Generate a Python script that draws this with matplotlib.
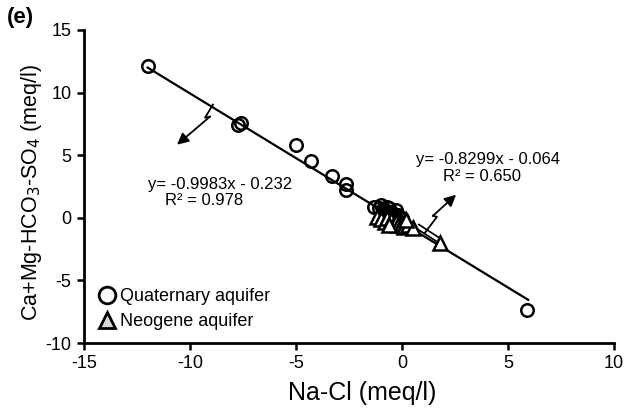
import matplotlib
matplotlib.use("Agg")
import matplotlib.pyplot as plt
from matplotlib.lines import Line2D

plt.rcParams['font.family'] = ['Liberation Sans', 'DejaVu Sans']
plt.rcParams['axes.unicode_minus'] = False

# Quaternary aquifer samples (Na-Cl, Ca+Mg-HCO3-SO4)
quat_x = [-12.0, -7.75, -7.6, -5.0, -4.3, -3.3, -2.65, -2.65, 5.9,
          -1.3, -1.1, -1.0, -0.9, -0.8, -0.7, -0.6, -0.5, -0.4, -0.3, -0.2, -0.1, 0.0, -0.9, -0.6]
quat_y = [12.1, 7.4, 7.55, 5.85, 4.5, 3.3, 2.7, 2.25, -7.35,
          0.9, 0.8, 1.0, 0.7, 0.6, 0.9, 0.4, 0.5, 0.3, 0.6, 0.2, 0.1, 0.0, 0.3, 0.8]

# Neogene aquifer samples
neo_x = [-1.2, -1.0, -0.8, -0.7, -0.5, -0.4, -0.3, -0.2, 0.0, 0.1, 0.3, 0.5, -0.6, 0.2, 1.8]
neo_y = [0.1, -0.1, -0.3, 0.0, -0.2, -0.5, -0.3, -0.6, -0.4, -0.7, -0.6, -0.8, -0.6, -0.2, -2.05]

# fitted lines (endpoints as drawn)
quat_fit_x = [-12.0, 5.95]
quat_fit_y = [12.0, -6.55]
neo_fit_x = [0.7, 1.7]
neo_fit_y = [-0.65, -1.75]

# lightning arrows (start, kink, jog, tip)
quat_arrow_x = [-8.92, -9.29, -9.06, -10.61]
quat_arrow_y = [9.04, 8.0, 8.08, 5.84]
neo_arrow_x = [1.08, 1.65, 1.46, 2.55]
neo_arrow_y = [-1.2, 0.08, 0.16, 1.84]

xticks = [-15, -10, -5, 0, 5, 10]
yticks = [-10, -5, 0, 5, 10, 15]

fig = plt.figure(figsize=(6.28, 4.08), dpi=100)
ax = fig.add_axes([84/628, 65/408, 530/628, 313/408])

ax.plot(quat_fit_x, quat_fit_y, color='black', lw=1.6, zorder=2)
ax.plot(neo_fit_x, neo_fit_y, color='black', lw=4.5, zorder=3, solid_capstyle='butt')
ax.plot(neo_fit_x, neo_fit_y, color='white', lw=2.0, zorder=3.1, solid_capstyle='butt')

ax.plot(quat_x, quat_y, linestyle='none', marker='o', ms=9, mfc='none',
        mec='black', mew=1.8, zorder=4)
ax.plot(neo_x, neo_y, linestyle='none', marker='^', ms=9.5, mfc='white',
        mec='black', mew=1.8, zorder=4)

for axx, ayy in [(quat_arrow_x, quat_arrow_y), (neo_arrow_x, neo_arrow_y)]:
    ax.plot(axx[:3], ayy[:3], color='black', lw=1.3, zorder=5)
    ax.annotate('', xy=(axx[3], ayy[3]), xytext=(axx[2], ayy[2]),
                arrowprops=dict(arrowstyle='-|>', color='black', lw=1.3,
                                mutation_scale=17, shrinkA=0, shrinkB=0), zorder=5)

ax.text(-12.0, 2.65, 'y= -0.9983x - 0.232', fontsize=12, va='center', ha='left')
ax.text(-11.2, 1.35, 'R² = 0.978', fontsize=12, va='center', ha='left')
ax.text(0.65, 4.65, 'y= -0.8299x - 0.064', fontsize=12, va='center', ha='left')
ax.text(1.95, 3.3, 'R² = 0.650', fontsize=12, va='center', ha='left')

ax.set_xlim(-15, 10)
ax.set_ylim(-10, 15)
ax.set_xticks(xticks)
ax.set_yticks(yticks)
ax.tick_params(direction='out', length=5, width=1.8, labelsize=13, pad=4)
for s in ['top', 'right']:
    ax.spines[s].set_visible(False)
for s in ['left', 'bottom']:
    ax.spines[s].set_linewidth(2.0)

ax.set_xlabel('Na-Cl (meq/l)', fontsize=18)
ax.xaxis.set_label_coords(0.525, -0.12)
ax.set_ylabel('Ca+Mg-HCO$_3$-SO$_4$ (meq/l)', fontsize=15.5)
ax.yaxis.set_label_coords(-0.075, 0.48)

handles = [Line2D([], [], linestyle='none', marker='o', ms=12, mfc='none', mec='black', mew=2),
           Line2D([], [], linestyle='none', marker='^', ms=12, mfc='#d9d9d9', mec='black', mew=2)]
ax.legend(handles, ['Quaternary aquifer', 'Neogene aquifer'], loc='lower left',
          bbox_to_anchor=(0.0, 0.0), frameon=False, fontsize=13, handletextpad=0.1,
          handlelength=1.2, borderaxespad=0.3, labelspacing=0.45)

fig.text(7/628, 1 - 17/408, '(e)', fontsize=16, fontweight='bold', va='center', ha='left')

fig.savefig('out.png', dpi=100)
